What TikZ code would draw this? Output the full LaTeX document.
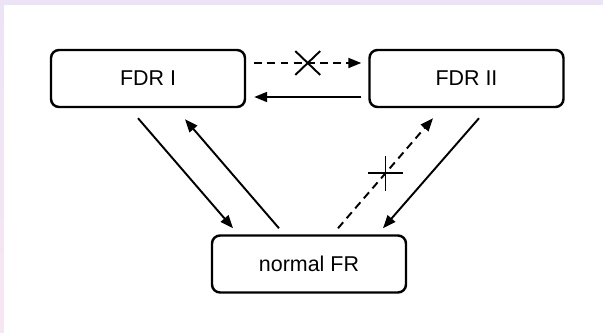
\documentclass[tikz,border=0pt]{standalone}
\usepackage{fontspec}
\setmainfont{Liberation Sans}
\usepackage{tikz}
\usetikzlibrary{calc,shapes.misc,backgrounds}
\usetikzlibrary{arrows.meta,arrows}

\definecolor{slidetop}{RGB}{236,228,246}
\definecolor{slidebot}{RGB}{246,230,241}

\tikzset{
        frbox/.style = {draw, rounded corners = 1.6mm, line width = 1.4pt, fill = white,
                        minimum width = 3.88cm, minimum height = 1.14cm, inner sep = 0pt,
                        font = \fontsize{12.2}{14}\selectfont},
        trans/.style = {line width = 1.1pt, -{Triangle[length = 2.6mm, width = 2mm]}},
        blocked/.style = {draw, solid, cross out, line width = 1.1pt,
                          minimum width = 0.46cm, minimum height = 0.44cm, inner sep = 0pt}
}

\begin{document}
\begin{tikzpicture}[x = 0.02cm, y = -0.02cm]
        \useasboundingbox (0,0) rectangle (603,333);

        \node[frbox] (fdrI)  at (148,78.5)   {FDR I};
        \node[frbox] (fdrII) at (466.5,78.5) {FDR II};
        \node[frbox] (nfr)   at (309,264)    {normal FR};

        \draw[trans, dashed, dash pattern = on 4.5pt off 3pt]
                ([shift = {(8,-15.5)}]fdrI.east) -- ([shift = {(-7,-15.5)}]fdrII.west)
                node[blocked, midway] (xI) {};
        \draw[trans] ([shift = {(-7,18.5)}]fdrII.west) -- ([shift = {(8,18.5)}]fdrI.east);

        \draw[trans] ([shift = {(-10,10)}]fdrI.south) -- ([shift = {(-76,-6)}]nfr.north);
        \draw[trans] ([shift = {(-30,-6)}]nfr.north)  -- ([shift = {(37,11)}]fdrI.south);

        \draw[trans, dashed, dash pattern = on 4.5pt off 3pt]
                ([shift = {(29,-6)}]nfr.north) -- ([shift = {(-33.5,10)}]fdrII.south)
                node[blocked, rotate = 45, minimum width = 0.45cm, minimum height = 0.45cm, midway] (xII) {};
        \draw[trans] ([shift = {(12.5,10)}]fdrII.south) -- ([shift = {(74,-6)}]nfr.north);

         \begin{scope}[on background layer]
             \fill[slidetop] (0,0) rectangle (603,333);
             \shade[top color = slidetop, bottom color = slidebot] (0,5) rectangle (4,333);
             \fill[white] (4,5) rectangle (603,333);
         \end{scope}
\end{tikzpicture}
\end{document}
